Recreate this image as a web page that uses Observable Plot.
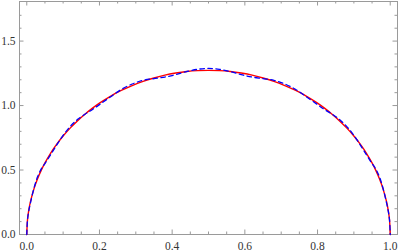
<!DOCTYPE html>
<html>
<head>
<meta charset="utf-8">
<script src="https://cdn.jsdelivr.net/npm/d3@7"></script>
<script src="https://cdn.jsdelivr.net/npm/@observablehq/plot@0.6"></script>
<style>
  html, body { margin: 0; padding: 0; background: #fff; }
  #chart svg, #chart svg text { font-family: "Liberation Serif", "DejaVu Serif", serif !important; font-size: 11.5px !important; }
  #chart svg text { fill: #333; }
</style>
</head>
<body>
<div id="chart"></div>
<script>
// Sample positions along x
const xs = [0, 0.002, 0.005, 0.01, 0.02, 0.03, 0.04, 0.05, 0.065, 0.08, 0.1, 0.12, 0.14, 0.16, 0.18, 0.2, 0.23, 0.26, 0.29, 0.32, 0.35, 0.38, 0.41, 0.44, 0.47, 0.5,
  0.53, 0.56, 0.59, 0.62, 0.65, 0.68, 0.71, 0.74, 0.77, 0.8, 0.82, 0.84, 0.86, 0.88, 0.9, 0.92, 0.935, 0.95, 0.96, 0.97, 0.98, 0.99, 0.995, 0.998, 1];
// Red solid curve
const redY = [0, 0.114, 0.180, 0.253, 0.356, 0.434, 0.499, 0.555, 0.628, 0.691, 0.764, 0.827, 0.883, 0.933, 0.978, 1.019, 1.072, 1.117, 1.155, 1.188, 1.214, 1.236, 1.252, 1.264, 1.271, 1.273,
  1.271, 1.264, 1.252, 1.236, 1.214, 1.188, 1.155, 1.117, 1.072, 1.019, 0.978, 0.933, 0.883, 0.827, 0.764, 0.691, 0.628, 0.555, 0.499, 0.434, 0.356, 0.253, 0.180, 0.114, 0];
// Blue dashed curve
const blueY = [0, 0.114, 0.175, 0.243, 0.361, 0.449, 0.509, 0.550, 0.616, 0.683, 0.769, 0.839, 0.893, 0.933, 0.968, 1.007, 1.067, 1.125, 1.167, 1.196, 1.209, 1.221, 1.240, 1.264, 1.281, 1.288,
  1.281, 1.264, 1.240, 1.221, 1.209, 1.196, 1.167, 1.125, 1.067, 1.007, 0.968, 0.933, 0.893, 0.839, 0.769, 0.683, 0.616, 0.550, 0.509, 0.449, 0.361, 0.243, 0.175, 0.114, 0];

// Tick values
const xMajor = [0, 0.2, 0.4, 0.6, 0.8, 1.0];
const xMinor = [0.05, 0.1, 0.15, 0.25, 0.3, 0.35, 0.45, 0.5, 0.55, 0.65, 0.7, 0.75, 0.85, 0.9, 0.95];
const yMajor = [0, 0.5, 1.0, 1.5];
const yMinor = [0.1, 0.2, 0.3, 0.4, 0.6, 0.7, 0.8, 0.9, 1.1, 1.2, 1.3, 1.4, 1.6, 1.7];

const red = xs.map((x, i) => ({x, y: redY[i]}));
const blue = xs.map((x, i) => ({x, y: blueY[i]}));

const W = 398, H = 252;
const mT = 1, mB = 18, mL = 19, mR = 1;
const innerH = H - mT - mB, innerW = W - mL - mR;
const majorLen = 4.5, minorLen = 2.5;
const gray = "#9a9a9a";

const chart = Plot.plot({
  width: W,
  height: H,
  marginTop: mT,
  marginBottom: mB,
  marginLeft: mL,
  marginRight: mR,
  style: {fontFamily: "'Liberation Serif', serif", fontSize: "11.5px", color: "#333", background: "#fff"},
  x: {domain: [-0.02, 1.02], ticks: xMajor, tickSize: 0, tickPadding: 7, tickFormat: d3.format(".1f"), label: null},
  y: {domain: [0, 1.807], ticks: yMajor, tickSize: 0, tickPadding: 4, tickFormat: d3.format(".1f"), label: null},
  marks: [
    Plot.ruleX(xMajor, {x: d => d, insetTop: innerH - majorLen, stroke: gray, strokeWidth: 1}),
    Plot.ruleX(xMinor, {x: d => d, insetTop: innerH - minorLen, stroke: gray, strokeWidth: 1}),
    Plot.ruleX(xMajor, {x: d => d, insetBottom: innerH - majorLen, stroke: gray, strokeWidth: 1}),
    Plot.ruleX(xMinor, {x: d => d, insetBottom: innerH - minorLen, stroke: gray, strokeWidth: 1}),
    Plot.ruleY(yMajor, {y: d => d, insetRight: innerW - majorLen, stroke: gray, strokeWidth: 1}),
    Plot.ruleY(yMinor, {y: d => d, insetRight: innerW - minorLen, stroke: gray, strokeWidth: 1}),
    Plot.ruleY(yMajor, {y: d => d, insetLeft: innerW - majorLen, stroke: gray, strokeWidth: 1}),
    Plot.ruleY(yMinor, {y: d => d, insetLeft: innerW - minorLen, stroke: gray, strokeWidth: 1}),
    Plot.frame({stroke: gray, strokeWidth: 1}),
    Plot.line(red, {x: "x", y: "y", stroke: "#ff0000", strokeWidth: 1.4, curve: "catmull-rom"}),
    Plot.line(blue, {x: "x", y: "y", stroke: "#0000ff", strokeWidth: 1.3, strokeDasharray: "4.5,3.5", curve: "catmull-rom"})
  ]
});
document.getElementById("chart").appendChild(chart);
</script>
</body>
</html>
